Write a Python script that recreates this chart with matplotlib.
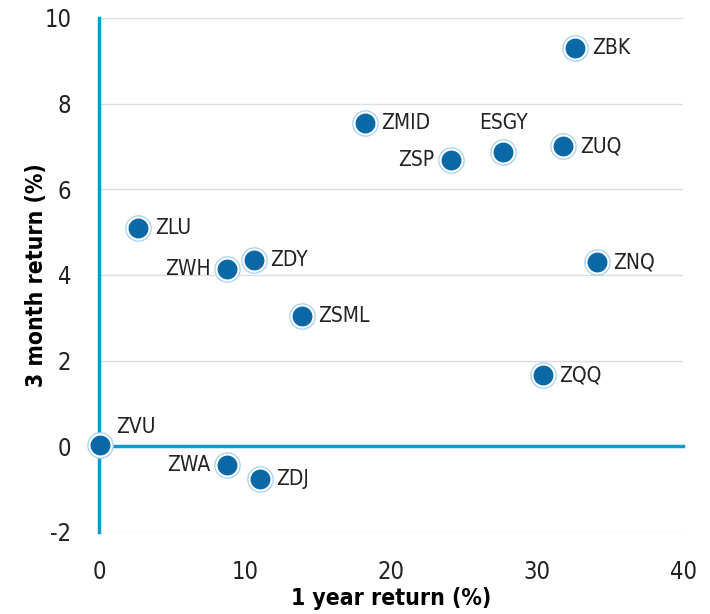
import matplotlib
matplotlib.use("Agg")
import matplotlib.pyplot as plt

plt.rcParams['font.family'] = ['Liberation Sans Narrow', 'DejaVu Sans']
plt.rcParams['font.stretch'] = 'condensed'
plt.rcParams['axes.unicode_minus'] = False

# data
tickers = ['ZBK', 'ZMID', 'ZSP', 'ESGY', 'ZUQ', 'ZLU', 'ZDY', 'ZWH',
           'ZNQ', 'ZSML', 'ZQQ', 'ZVU', 'ZWA', 'ZDJ']
one_year = [32.6, 18.2, 24.1, 27.7, 31.8, 2.7, 10.6, 8.8,
            34.1, 13.9, 30.4, 0.05, 8.8, 11.0]
three_month = [9.29, 7.54, 6.68, 6.86, 7.0, 5.09, 4.34, 4.13,
               4.30, 3.04, 1.66, 0.02, -0.44, -0.77]
# where each label sits relative to its point
placement = ['right', 'right', 'left', 'above', 'right', 'right', 'right', 'left',
             'right', 'right', 'right', 'aboveright', 'left', 'right']

dot_col = '#0b68a6'
ring_col = '#a9d3ee'
axis_col = '#0f9ad2'

fig = plt.figure(figsize=(7.1, 6.14), dpi=100)
ax = fig.add_axes([0.1394, 0.1336, 0.8226, 0.8371])

ax.set_xlim(0, 40)
ax.set_ylim(-2, 10)
ax.set_xticks([0, 10, 20, 30, 40])
ax.set_yticks([-2, 0, 2, 4, 6, 8, 10])
for s in ax.spines.values():
    s.set_visible(False)
ax.tick_params(length=0, labelsize=17, colors='#222222')
ax.tick_params(axis='x', pad=20)
ax.tick_params(axis='y', pad=20)
ax.yaxis.grid(True, color='#dddddd', linewidth=1)
ax.set_axisbelow(True)

# zero lines
ax.plot([0, 0], [-2, 10], color=axis_col, lw=2.5, zorder=2, clip_on=False)
ax.plot([0, 40], [0, 0], color=axis_col, lw=2.5, zorder=2, clip_on=False)

ax.scatter(one_year, three_month, s=330, color=ring_col, zorder=3, clip_on=False)
ax.scatter(one_year, three_month, s=250, color=dot_col, edgecolors='white',
           linewidths=1.5, zorder=4, clip_on=False)

offsets = {'right': ((12, 0), 'left', 'center'),
           'left': ((-12, 0), 'right', 'center'),
           'above': ((0, 14), 'center', 'bottom'),
           'aboveright': ((12, 6), 'left', 'bottom')}
for t, x, y, p in zip(tickers, one_year, three_month, placement):
    off, ha, va = offsets[p]
    ax.annotate(t, (x, y), xytext=off, textcoords='offset points',
                ha=ha, va=va, fontsize=15, color='#222222', zorder=5)

ax.set_xlabel('1 year return (%)', fontsize=16.5, fontweight='bold', labelpad=2)
ax.set_ylabel('3 month return (%)', fontsize=16.5, fontweight='bold', labelpad=-3)

fig.savefig('out.png', dpi=100)
